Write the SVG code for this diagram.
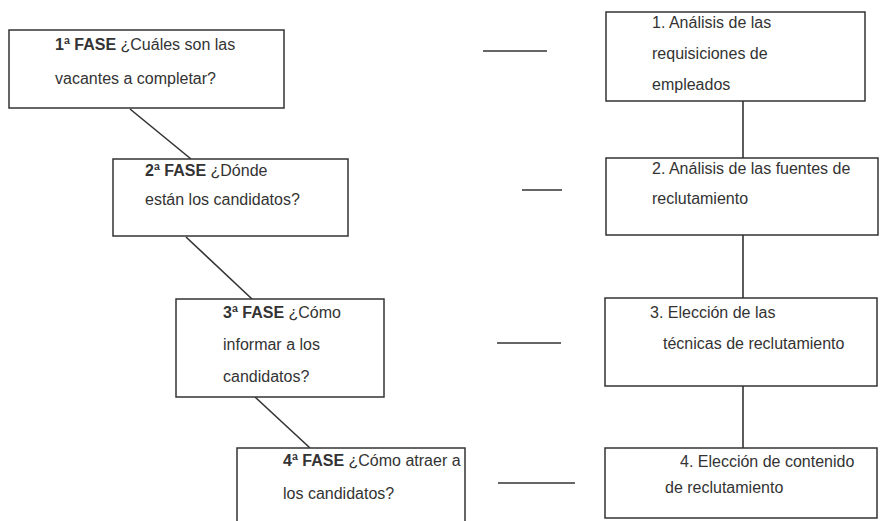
<svg xmlns="http://www.w3.org/2000/svg" width="887" height="521" viewBox="0 0 887 521">
<style>
.box{fill:#fff;stroke:#333;stroke-width:1.5}
.t{font-family:"Liberation Sans",Arial,sans-serif;font-size:16px;fill:#333}
.b{font-weight:bold}
.c{stroke:#333;stroke-width:1.6;fill:none}
</style>
<rect width="887" height="521" fill="#fff"/>
<g id="connectors">
<line class="c" x1="130" y1="109" x2="191" y2="159"/>
<line class="c" x1="186" y1="237" x2="252" y2="299"/>
<line class="c" x1="255" y1="397" x2="310" y2="448"/>
<line class="c" x1="743" y1="101" x2="743" y2="158"/>
<line class="c" x1="743" y1="235" x2="743" y2="298"/>
<line class="c" x1="743" y1="386" x2="743" y2="448"/>
<line class="c" x1="483" y1="51" x2="547" y2="51"/>
<line class="c" x1="522" y1="190" x2="562" y2="190"/>
<line class="c" x1="497" y1="343" x2="561" y2="343"/>
<line class="c" x1="498" y1="483" x2="575" y2="483"/>
</g>
<g id="fase1">
<rect class="box" x="9" y="30" width="275" height="78"/>
<text class="t" x="55" y="50"><tspan class="b">1ª FASE</tspan> ¿Cuáles son las</text>
<text class="t" x="55" y="84">vacantes a completar?</text>
</g>
<g id="fase2">
<rect class="box" x="113" y="159" width="235" height="77"/>
<text class="t" x="145" y="176"><tspan class="b">2ª FASE</tspan> ¿Dónde</text>
<text class="t" x="145" y="205">están los candidatos?</text>
</g>
<g id="fase3">
<rect class="box" x="176" y="299" width="208" height="98"/>
<text class="t" x="223" y="318"><tspan class="b">3ª FASE</tspan> ¿Cómo</text>
<text class="t" x="223" y="350">informar a los</text>
<text class="t" x="223" y="382">candidatos?</text>
</g>
<g id="fase4">
<rect class="box" x="237" y="448" width="228" height="80"/>
<text class="t" x="283" y="466"><tspan class="b">4ª FASE</tspan> ¿Cómo atraer a</text>
<text class="t" x="283" y="499">los candidatos?</text>
</g>
<g id="paso1">
<rect class="box" x="606" y="12" width="259" height="89"/>
<text class="t" x="652" y="28">1. Análisis de las</text>
<text class="t" x="652" y="59">requisiciones  de</text>
<text class="t" x="652" y="90">empleados</text>
</g>
<g id="paso2">
<rect class="box" x="606" y="158" width="272" height="77"/>
<text class="t" x="652" y="174">2. Análisis de las fuentes de</text>
<text class="t" x="652" y="204">reclutamiento</text>
</g>
<g id="paso3">
<rect class="box" x="605" y="298" width="272" height="88"/>
<text class="t" x="650" y="318">3. Elección de las</text>
<text class="t" x="663" y="349">técnicas de reclutamiento</text>
</g>
<g id="paso4">
<rect class="box" x="605" y="448" width="272" height="70"/>
<text class="t" x="680" y="467">4. Elección de contenido</text>
<text class="t" x="665" y="493">de reclutamiento</text>
</g>
</svg>
